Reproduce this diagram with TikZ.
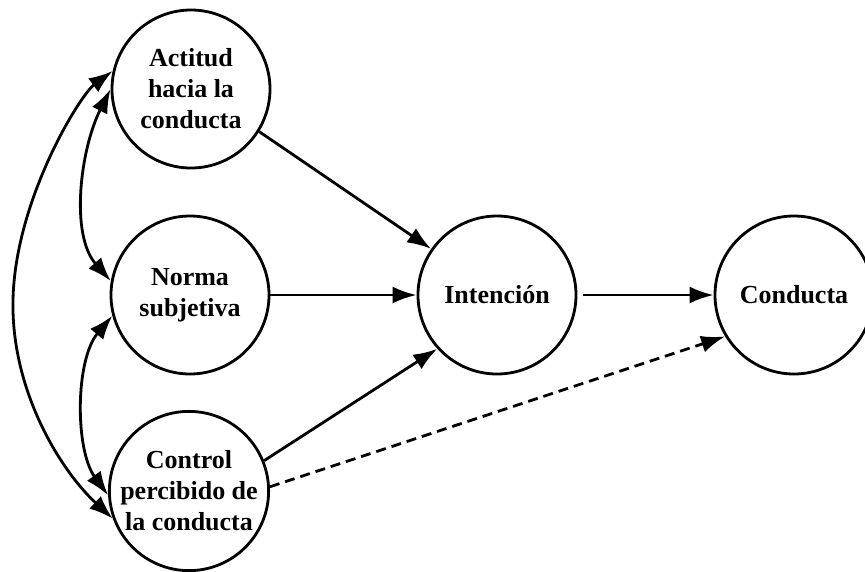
\documentclass[tikz,border=0pt]{standalone}
\usepackage{fontspec}
\setmainfont{Liberation Serif}
\usetikzlibrary{arrows.meta}
\begin{document}
\begin{tikzpicture}[x=1pt,y=-1pt,
  construct/.style={circle,draw,line width=2.8pt,minimum size=158pt,inner sep=0pt,
    align=center,font=\bfseries\fontsize{26}{31}\selectfont},
  conn/.style={line width=2.8pt,-{Latex[length=24pt,width=17pt]}},
  corr/.style={line width=2.8pt,{Latex[length=24pt,width=17pt]}-{Latex[length=24pt,width=17pt]}},
  dashconn/.style={conn,dash pattern=on 10pt off 6pt}]
\useasboundingbox (0,0) rectangle (865,571);
\node[construct] (A) at (191,89) {Actitud\\hacia la\\conducta};
\node[construct] (N) at (190,295) {Norma\\subjetiva};
\node[construct] (C) at (189,491) {Control\\percibido de\\la conducta};
\node[construct] (I) at (497,295) {Intención};
\node[construct] (K) at (794,295) {Conducta};
\coordinate (outerL) at (13,300);
\draw[corr] (A.167) .. controls (80,95) and (15,200) .. (outerL) .. controls (11,390) and (60,470) .. (C.200);
\draw[corr] (A.180) .. controls (80,150) and (70,235) .. (N.170);
\draw[corr] (N.195) .. controls (75,360) and (75,450) .. (C.183);
\draw[conn] (A.-32) -- (I.145);
\draw[conn] (N.east) -- (I.west);
\draw[conn] (C.22) -- (I.222);
\draw[conn,shorten <=6pt] (I.east) -- (K.west);
\draw[dashconn] (C.3) -- (K.211);
\end{tikzpicture}
\end{document}
